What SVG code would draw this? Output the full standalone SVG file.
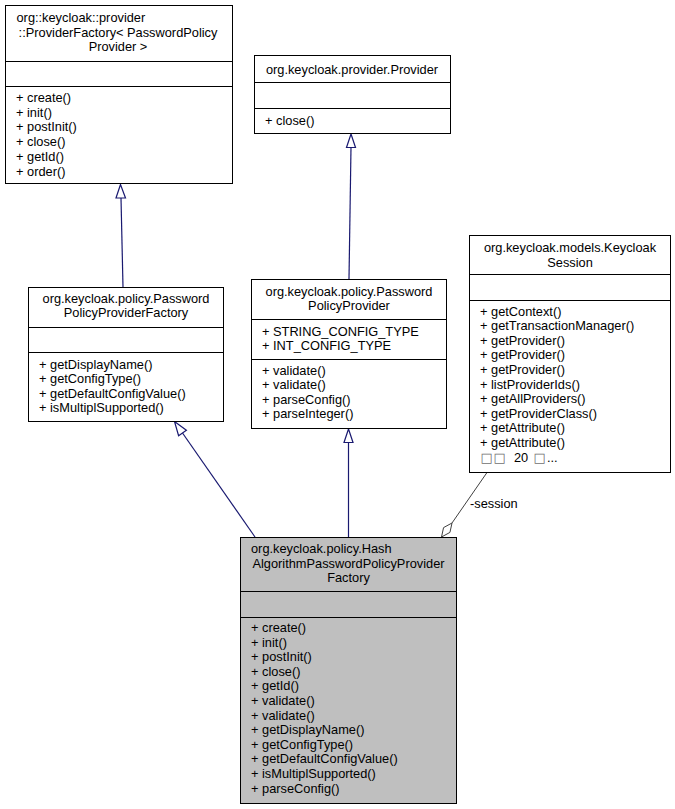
<svg xmlns="http://www.w3.org/2000/svg" width="675" height="809" viewBox="0 0 675 809">
<style>
text { font-family: "Liberation Sans", Arial, sans-serif; font-size: 12.8px; fill: #000; }
.c { text-anchor: middle; }
.tofu { font-family: "DejaVu Sans", sans-serif; font-size: 13px; fill: #707070; }
.box { fill: #fff; stroke: #000; stroke-width: 1; }
.cur { fill: #bfbfbf; stroke: #000; stroke-width: 1; }
.div { stroke: #000; stroke-width: 1; }
.inh { stroke: #191970; stroke-width: 1.2; fill: none; }
.inhh { stroke: #191970; stroke-width: 1.2; fill: #fff; }
.agg { stroke: #404040; stroke-width: 1; fill: none; }
.aggh { stroke: #404040; stroke-width: 1; fill: #fff; }
</style>
<rect x="0" y="0" width="675" height="809" fill="#fff"/>
<g id="connectors">
  <line class="inh" x1="123" y1="287" x2="121" y2="198"/>
  <polygon class="inhh" points="120.5,184.5 116,198 125.5,198"/>
  <line class="inh" x1="349" y1="279" x2="351" y2="147"/>
  <polygon class="inhh" points="351,134 346.5,147.5 355.5,147.5"/>
  <line class="inh" x1="255" y1="537" x2="182.5" y2="433"/>
  <polygon class="inhh" points="174.5,421.5 186.4,430.3 178.6,435.7"/>
  <line class="inh" x1="348.5" y1="537" x2="348.5" y2="442.5"/>
  <polygon class="inhh" points="348.5,429 344,442.5 353,442.5"/>
  <line class="agg" x1="487" y1="472.5" x2="452" y2="523"/>
  <polygon class="aggh" points="441.5,537 449.95,532.4 452,523 443.55,527.6"/>
  <text x="470" y="508">-session</text>
</g>
<g id="node-providerfactory">
  <rect class="box" x="5.5" y="5.5" width="227" height="178"/>
  <line class="div" x1="5.5" y1="61.5" x2="232.5" y2="61.5"/>
  <line class="div" x1="5.5" y1="86.5" x2="232.5" y2="86.5"/>
  <text x="16.5" y="22">org::keycloak::provider</text>
  <text class="c" x="118" y="36.5">::ProviderFactory&lt; PasswordPolicy</text>
  <text class="c" x="118" y="51">Provider &gt;</text>
  <text x="16" y="102">+ create()</text>
  <text x="16" y="116.7">+ init()</text>
  <text x="16" y="131.4">+ postInit()</text>
  <text x="16" y="146.1">+ close()</text>
  <text x="16" y="160.8">+ getId()</text>
  <text x="16" y="175.5">+ order()</text>
</g>
<g id="node-provider">
  <rect class="box" x="254.5" y="55.5" width="196" height="78"/>
  <line class="div" x1="254.5" y1="82.5" x2="450.5" y2="82.5"/>
  <line class="div" x1="254.5" y1="108.5" x2="450.5" y2="108.5"/>
  <text class="c" x="352" y="73.5">org.keycloak.provider.Provider</text>
  <text x="265" y="125">+ close()</text>
</g>
<g id="node-keycloaksession">
  <rect class="box" x="469.5" y="235.5" width="201" height="237"/>
  <line class="div" x1="469.5" y1="274.5" x2="670.5" y2="274.5"/>
  <line class="div" x1="469.5" y1="300.5" x2="670.5" y2="300.5"/>
  <text class="c" x="570" y="252">org.keycloak.models.Keycloak</text>
  <text class="c" x="570" y="266.5">Session</text>
  <text x="480" y="315.5">+ getContext()</text>
  <text x="480" y="330.1">+ getTransactionManager()</text>
  <text x="480" y="344.7">+ getProvider()</text>
  <text x="480" y="359.3">+ getProvider()</text>
  <text x="480" y="373.9">+ getProvider()</text>
  <text x="480" y="388.5">+ listProviderIds()</text>
  <text x="480" y="403.1">+ getAllProviders()</text>
  <text x="480" y="417.7">+ getProviderClass()</text>
  <text x="480" y="432.3">+ getAttribute()</text>
  <text x="480" y="446.9">+ getAttribute()</text>
  <text y="462"><tspan class="tofu" x="480.5">□</tspan><tspan class="tofu" x="493.5">□</tspan><tspan x="514">20</tspan><tspan class="tofu" x="533.5">□</tspan><tspan x="547">...</tspan></text>
</g>
<g id="node-passwordpolicyproviderfactory">
  <rect class="box" x="28.5" y="287.5" width="195" height="134"/>
  <line class="div" x1="28.5" y1="327.5" x2="223.5" y2="327.5"/>
  <line class="div" x1="28.5" y1="352.5" x2="223.5" y2="352.5"/>
  <text class="c" x="126" y="302.5">org.keycloak.policy.Password</text>
  <text class="c" x="126" y="317">PolicyProviderFactory</text>
  <text x="39" y="368.5">+ getDisplayName()</text>
  <text x="39" y="383">+ getConfigType()</text>
  <text x="39" y="397.5">+ getDefaultConfigValue()</text>
  <text x="39" y="412">+ isMultiplSupported()</text>
</g>
<g id="node-passwordpolicyprovider">
  <rect class="box" x="251.5" y="279.5" width="195" height="149"/>
  <line class="div" x1="251.5" y1="319.5" x2="446.5" y2="319.5"/>
  <line class="div" x1="251.5" y1="359.5" x2="446.5" y2="359.5"/>
  <text class="c" x="349" y="295.5">org.keycloak.policy.Password</text>
  <text class="c" x="349" y="310">PolicyProvider</text>
  <text x="262" y="335.5">+ STRING_CONFIG_TYPE</text>
  <text x="262" y="350">+ INT_CONFIG_TYPE</text>
  <text x="262" y="374.5">+ validate()</text>
  <text x="262" y="389">+ validate()</text>
  <text x="262" y="403.5">+ parseConfig()</text>
  <text x="262" y="418">+ parseInteger()</text>
</g>
<g id="node-hashalgorithmpasswordpolicyproviderfactory">
  <rect class="cur" x="240.5" y="537.5" width="216" height="266"/>
  <line class="div" x1="240.5" y1="591.5" x2="456.5" y2="591.5"/>
  <line class="div" x1="240.5" y1="617.5" x2="456.5" y2="617.5"/>
  <text x="251" y="553">org.keycloak.policy.Hash</text>
  <text class="c" x="348.5" y="567.5">AlgorithmPasswordPolicyProvider</text>
  <text class="c" x="348.5" y="582">Factory</text>
  <text x="251" y="632">+ create()</text>
  <text x="251" y="646.6">+ init()</text>
  <text x="251" y="661.2">+ postInit()</text>
  <text x="251" y="675.8">+ close()</text>
  <text x="251" y="690.4">+ getId()</text>
  <text x="251" y="705">+ validate()</text>
  <text x="251" y="719.6">+ validate()</text>
  <text x="251" y="734.2">+ getDisplayName()</text>
  <text x="251" y="748.8">+ getConfigType()</text>
  <text x="251" y="763.4">+ getDefaultConfigValue()</text>
  <text x="251" y="778">+ isMultiplSupported()</text>
  <text x="251" y="792.6">+ parseConfig()</text>
</g>
</svg>
